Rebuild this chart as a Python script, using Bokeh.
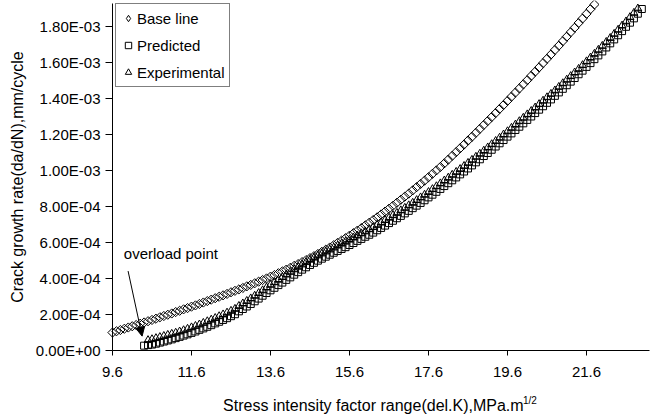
import math
import numpy as np
from bokeh.plotting import figure
from bokeh.models import (Range1d, FixedTicker, CustomJSTickFormatter, Label,
                          Arrow, NormalHead, Legend, LegendItem)
from bokeh.embed import file_html
from bokeh.resources import INLINE

# ---------------- data (crack growth rate in units of 1E-04 mm/cycle) ----------------
base_x = [9.6, 9.7, 9.8, 9.9, 10.0, 10.1, 10.2, 10.3, 10.4, 10.5, 10.6, 10.7, 10.8, 10.9,
          11.0, 11.1, 11.2, 11.3, 11.4, 11.5, 11.6, 11.7, 11.8, 11.9, 12.0, 12.1, 12.2, 12.3,
          12.4, 12.5, 12.6, 12.7, 12.8, 12.9, 13.0, 13.1, 13.2, 13.3, 13.4, 13.5, 13.6, 13.7,
          13.8, 13.9, 14.0, 14.1, 14.2, 14.3, 14.4, 14.5, 14.6, 14.7, 14.8, 14.9, 15.0, 15.1,
          15.2, 15.3, 15.4, 15.5, 15.6, 15.7, 15.8, 15.9, 16.0, 16.1, 16.2, 16.3, 16.4, 16.5,
          16.6, 16.7, 16.8, 16.9, 17.0, 17.1, 17.2, 17.3, 17.4, 17.5, 17.6, 17.7, 17.8, 17.9,
          18.0, 18.1, 18.2, 18.3, 18.4, 18.5, 18.6, 18.7, 18.8, 18.9, 19.0, 19.1, 19.2, 19.3,
          19.4, 19.5, 19.6, 19.7, 19.8, 19.9, 20.0, 20.1, 20.2, 20.3, 20.4, 20.5, 20.6, 20.7,
          20.8, 20.9, 21.0, 21.1, 21.2, 21.3, 21.4, 21.5, 21.6, 21.7, 21.8]
base_rate_e4 = [1.00, 1.07, 1.14, 1.21, 1.28, 1.35, 1.42, 1.49, 1.56, 1.63, 1.70, 1.77, 1.85,
                1.92, 1.99, 2.06, 2.14, 2.21, 2.29, 2.36, 2.44, 2.51, 2.59, 2.67, 2.75, 2.83,
                2.91, 2.99, 3.07, 3.15, 3.24, 3.32, 3.40, 3.48, 3.57, 3.65, 3.74, 3.83, 3.92,
                4.01, 4.11, 4.20, 4.30, 4.40, 4.50, 4.60, 4.71, 4.81, 4.92, 5.03, 5.14, 5.25,
                5.37, 5.49, 5.61, 5.73, 5.86, 5.99, 6.12, 6.25, 6.39, 6.53, 6.67, 6.81, 6.96,
                7.11, 7.26, 7.41, 7.57, 7.73, 7.89, 8.05, 8.22, 8.39, 8.56, 8.73, 8.91, 9.09,
                9.27, 9.45, 9.64, 9.83, 10.02, 10.21, 10.41, 10.62, 10.83, 11.04, 11.25, 11.46,
                11.68, 11.89, 12.11, 12.33, 12.55, 12.77, 12.99, 13.21, 13.44, 13.66, 13.89,
                14.12, 14.35, 14.58, 14.81, 15.04, 15.28, 15.51, 15.75, 15.99, 16.23, 16.47,
                16.72, 16.96, 17.21, 17.46, 17.71, 17.96, 18.22, 18.47, 18.73, 18.99, 19.25]

pred_x = [10.4, 10.5, 10.6, 10.7, 10.8, 10.9, 11.0, 11.1, 11.2, 11.3, 11.4, 11.5, 11.6, 11.7,
          11.8, 11.9, 12.0, 12.1, 12.2, 12.3, 12.4, 12.5, 12.6, 12.7, 12.8, 12.9, 13.0, 13.1,
          13.2, 13.3, 13.4, 13.5, 13.6, 13.7, 13.8, 13.9, 14.0, 14.1, 14.2, 14.3, 14.4, 14.5,
          14.6, 14.7, 14.8, 14.9, 15.0, 15.1, 15.2, 15.3, 15.4, 15.5, 15.6, 15.7, 15.8, 15.9,
          16.0, 16.1, 16.2, 16.3, 16.4, 16.5, 16.6, 16.7, 16.8, 16.9, 17.0, 17.1, 17.2, 17.3,
          17.4, 17.5, 17.6, 17.7, 17.8, 17.9, 18.0, 18.1, 18.2, 18.3, 18.4, 18.5, 18.6, 18.7,
          18.8, 18.9, 19.0, 19.1, 19.2, 19.3, 19.4, 19.5, 19.6, 19.7, 19.8, 19.9, 20.0, 20.1,
          20.2, 20.3, 20.4, 20.5, 20.6, 20.7, 20.8, 20.9, 21.0, 21.1, 21.2, 21.3, 21.4, 21.5,
          21.6, 21.7, 21.8, 21.9, 22.0, 22.1, 22.2, 22.3, 22.4, 22.5, 22.6, 22.7, 22.8, 22.9,
          23.0]
pred_rate_e4 = [0.27, 0.30, 0.33, 0.38, 0.44, 0.50, 0.56, 0.62, 0.69, 0.76, 0.83, 0.90, 0.98,
                1.06, 1.15, 1.23, 1.32, 1.41, 1.51, 1.60, 1.70, 1.80, 1.91, 2.02, 2.18, 2.31,
                2.45, 2.59, 2.74, 2.89, 3.05, 3.20, 3.35, 3.49, 3.64, 3.78, 3.93, 4.07, 4.22,
                4.36, 4.50, 4.63, 4.76, 4.88, 5.00, 5.11, 5.22, 5.33, 5.44, 5.54, 5.65, 5.75,
                5.87, 5.98, 6.10, 6.21, 6.33, 6.44, 6.56, 6.69, 6.82, 6.95, 7.09, 7.22, 7.36,
                7.49, 7.63, 7.77, 7.92, 8.06, 8.21, 8.36, 8.52, 8.67, 8.83, 8.99, 9.15, 9.31,
                9.47, 9.63, 9.80, 9.96, 10.13, 10.30, 10.47, 10.64, 10.82, 10.99, 11.17, 11.35,
                11.53, 11.71, 11.90, 12.08, 12.27, 12.45, 12.64, 12.83, 13.02, 13.21, 13.40,
                13.59, 13.78, 13.97, 14.17, 14.36, 14.56, 14.76, 14.96, 15.16, 15.37, 15.57,
                15.78, 15.99, 16.21, 16.42, 16.64, 16.86, 17.09, 17.31, 17.54, 17.77, 18.01,
                18.24, 18.48, 18.74, 19.00]

exp_x = [10.5, 10.6, 10.7, 10.8, 10.9, 11.0, 11.1, 11.2, 11.3, 11.4, 11.5, 11.6, 11.7, 11.8,
         11.9, 12.0, 12.1, 12.2, 12.3, 12.4, 12.5, 12.6, 12.7, 12.8, 12.9, 13.0, 13.1, 13.2,
         13.3, 13.4, 13.5, 13.6, 13.7, 13.8, 13.9, 14.0, 14.1, 14.2, 14.3, 14.4, 14.5, 14.6,
         14.7, 14.8, 14.9, 15.0, 15.1, 15.2, 15.3, 15.4, 15.5, 15.6, 15.7, 15.8, 15.9, 16.0,
         16.1, 16.2, 16.3, 16.4, 16.5, 16.6, 16.7, 16.8, 16.9, 17.0, 17.1, 17.2, 17.3, 17.4,
         17.5, 17.6, 17.7, 17.8, 17.9, 18.0, 18.1, 18.2, 18.3, 18.4, 18.5, 18.6, 18.7, 18.8,
         18.9, 19.0, 19.1, 19.2, 19.3, 19.4, 19.5, 19.6, 19.7, 19.8, 19.9, 20.0, 20.1, 20.2,
         20.3, 20.4, 20.5, 20.6, 20.7, 20.8, 20.9, 21.0, 21.1, 21.2, 21.3, 21.4, 21.5, 21.6,
         21.7, 21.8, 21.9, 22.0, 22.1, 22.2, 22.3, 22.4, 22.5, 22.6, 22.7, 22.8, 22.9]
exp_rate_e4 = [0.57, 0.62, 0.68, 0.74, 0.80, 0.86, 0.92, 0.98, 1.05, 1.12, 1.20, 1.28, 1.36,
               1.44, 1.53, 1.62, 1.71, 1.80, 1.90, 2.00, 2.10, 2.20, 2.31, 2.47, 2.61, 2.75,
               2.89, 3.04, 3.19, 3.34, 3.50, 3.65, 3.79, 3.93, 4.08, 4.22, 4.37, 4.51, 4.65,
               4.78, 4.91, 5.04, 5.16, 5.28, 5.39, 5.50, 5.61, 5.72, 5.83, 5.94, 6.05, 6.16,
               6.28, 6.39, 6.51, 6.62, 6.74, 6.86, 6.98, 7.11, 7.25, 7.38, 7.52, 7.65, 7.79,
               7.93, 8.07, 8.21, 8.36, 8.51, 8.66, 8.81, 8.97, 9.13, 9.29, 9.45, 9.61, 9.77,
               9.93, 10.09, 10.26, 10.43, 10.60, 10.77, 10.94, 11.11, 11.29, 11.47, 11.65,
               11.83, 12.01, 12.19, 12.38, 12.56, 12.75, 12.94, 13.13, 13.32, 13.51, 13.70,
               13.89, 14.08, 14.27, 14.46, 14.66, 14.86, 15.06, 15.26, 15.46, 15.66, 15.87,
               16.08, 16.29, 16.50, 16.72, 16.94, 17.16, 17.38, 17.61, 17.84, 18.07, 18.30,
               18.54, 18.78, 19.02]

series_names = ["Base line", "Predicted", "Experimental"]
x_ticks = [9.6, 11.6, 13.6, 15.6, 17.6, 19.6, 21.6]
y_ticks = [0.0, 0.0002, 0.0004, 0.0006, 0.0008, 0.0010, 0.0012, 0.0014, 0.0016, 0.0018]
x_title = "Stress intensity factor range(del.K),MPa.m"
x_title_sup = "1/2"
y_title = "Crack growth rate(da/dN),mm/cycle"
note_text = "overload point"

FONT = "Liberation Sans"
E4 = 1e-4

# The frame spans the whole canvas; axes are pinned at x=9.6 / y=0 so that
# axis titles (as Labels) stay inside the drawable frame.
p = figure(width=653, height=414, output_backend="svg", toolbar_location=None,
           x_range=Range1d(6.765, 23.296), y_range=Range1d(-3.56e-4, 1.9473e-3),
           min_border_left=0, min_border_right=0, min_border_top=0,
           min_border_bottom=0)
p.outline_line_color = None
p.xgrid.visible = False
p.ygrid.visible = False
p.background_fill_color = "white"
p.border_fill_color = "white"

r_base = p.scatter(base_x, np.array(base_rate_e4) * E4, marker="square", angle=math.pi / 4,
                   size=6.5, line_color="black", fill_color=None, line_width=1)
r_pred = p.scatter(pred_x, np.array(pred_rate_e4) * E4, marker="square", size=7,
                   line_color="black", fill_color=None, line_width=1)
r_exp = p.scatter(exp_x, np.array(exp_rate_e4) * E4, marker="triangle", size=8,
                  line_color="black", fill_color=None, line_width=1)
# legend-only glyph for the diamond symbol (legend does not draw rotation)
r_base_key = p.scatter([float("nan")], [float("nan")], marker="diamond", size=9,
                       line_color="black", fill_color=None, line_width=1)

# axes
xa = p.xaxis[0]
xa.fixed_location = 0
xa.bounds = (9.6, 23.2)
xa.ticker = FixedTicker(ticks=x_ticks)
xa.formatter = CustomJSTickFormatter(code="return tick.toFixed(1);")
xa.major_tick_out = 5
xa.major_tick_in = 0
xa.minor_tick_line_color = None
xa.major_label_standoff = 11
xa.major_label_text_font = FONT
xa.major_label_text_font_size = "15px"
xa.major_label_text_color = "black"
xa.axis_line_color = "black"
xa.major_tick_line_color = "black"

ya = p.yaxis[0]
ya.fixed_location = 9.6
ya.bounds = (0, 0.00193)
ya.ticker = FixedTicker(ticks=y_ticks)
ya.formatter = CustomJSTickFormatter(code=r"""
const s = tick.toExponential(2).toUpperCase();
return s.replace(/E([+-])(\d)$/, function(m, a, b) { return "E" + a + "0" + b; });
""")
ya.major_tick_out = 7
ya.major_tick_in = 0
ya.minor_tick_line_color = None
ya.major_label_standoff = 5
ya.major_label_text_font = FONT
ya.major_label_text_font_size = "15px"
ya.major_label_text_color = "black"
ya.axis_line_color = "black"
ya.major_tick_line_color = "black"

# axis titles
p.add_layout(Label(x=7.188, y=9.65e-4, text=y_title, angle=math.pi / 2,
                   text_font=FONT, text_font_size="16px", text_align="center",
                   text_baseline="middle", text_color="black"))
p.add_layout(Label(x=12.40, y=-3.06e-4, text=x_title, text_font=FONT,
                   text_font_size="16px", text_baseline="alphabetic",
                   text_align="left", text_color="black"))
p.add_layout(Label(x=19.99, y=-2.80e-4, text=x_title_sup, text_font=FONT,
                   text_font_size="10px", text_baseline="alphabetic",
                   text_align="left", text_color="black"))

# overload annotation
p.add_layout(Label(x=9.886, y=5.40e-4, text=note_text, text_font=FONT,
                   text_font_size="15px", text_baseline="alphabetic",
                   text_align="left", text_color="black"))
p.add_layout(Arrow(x_start=9.995, y_start=4.42e-4, x_end=10.35, y_end=0.80e-4,
                   line_color="black", line_width=1,
                   end=NormalHead(size=9, fill_color="black", line_color="black")))

# legend (location = bottom-left corner in screen px from frame bottom-left)
lg = Legend(items=[LegendItem(label=series_names[0], renderers=[r_base_key]),
                   LegendItem(label=series_names[1], renderers=[r_pred]),
                   LegendItem(label=series_names[2], renderers=[r_exp])],
            location=(115, 327))
lg.margin = 0
lg.padding = 4
lg.spacing = 7
lg.glyph_width = 16
lg.glyph_height = 20
lg.label_height = 20
lg.label_standoff = 1
lg.label_text_font = FONT
lg.label_text_font_size = "15px"
lg.label_text_color = "black"
lg.border_line_color = "black"
lg.border_line_width = 1
lg.background_fill_color = "white"
lg.background_fill_alpha = 1.0
p.add_layout(lg)

open("out.html", "w").write(file_html(p, INLINE))
